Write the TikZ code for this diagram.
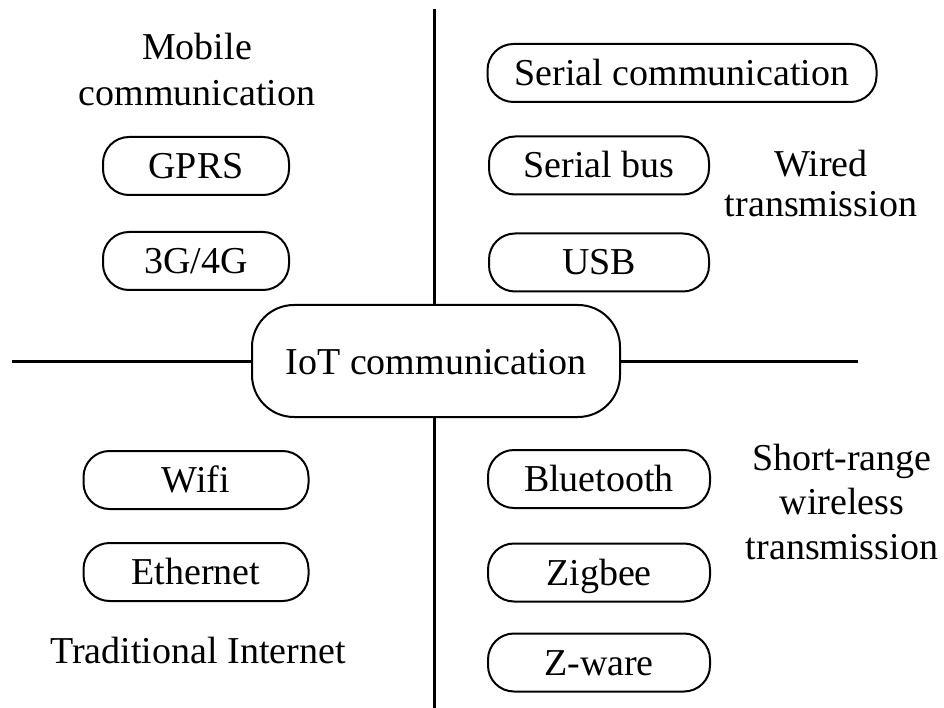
\documentclass[tikz,border=0pt]{standalone}
\usepackage{fontspec}
\setmainfont{Liberation Serif}
\begin{document}
\begin{tikzpicture}[x=1pt,y=-1pt,
  txt/.style={font=\fontsize{38}{46}\selectfont, inner sep=0pt, align=center},
  chip/.style={draw, line width=2pt, rounded corners=26pt, inner sep=0pt,
               font=\fontsize{38}{46}\selectfont, text height=25pt, text depth=0pt,
               minimum height=58pt},
  hub/.style={draw, line width=2pt, rounded corners=42pt, inner sep=0pt,
              font=\fontsize{38}{46}\selectfont, text height=27pt, text depth=0pt,
              minimum width=368pt, minimum height=112pt},
  axis/.style={line width=3pt}]
\useasboundingbox (0,0) rectangle (944,708);

% central node and the two axes crossing it
\node[hub] (iot) at (436,361) {IoT communication};
\coordinate (vtop) at (434,9.5);
\coordinate (vbot) at (434,708);
\coordinate (hleft) at (12,361);
\coordinate (hright) at (858,361);
\draw[axis] (vtop) -- (vtop |- iot.north);
\draw[axis] (vbot) -- (vbot |- iot.south);
\draw[axis] (hleft) -- (iot.west);
\draw[axis] (hright) -- (iot.east);

% mobile communication (upper left)
\node[txt] (mobile) at (197,70) {Mobile\\communication};
\node[chip, minimum width=186pt] (gprs) at (196,166) {GPRS};
\node[chip, minimum width=186pt] (g34) at (196,261) {3G/4G};

% wired transmission (upper right)
\node[chip, minimum width=389pt] (serialc) at (682,73) {Serial communication};
\node[chip, minimum width=220pt] (serialb) at (599,165.5) {Serial bus};
\node[chip, minimum width=220pt] (usb) at (599,262.5) {USB};
\node[txt, font=\fontsize{38}{40}\selectfont] (wired) at (821,184) {Wired\\transmission};

% traditional internet (lower left)
\node[chip, minimum width=225pt] (wifi) at (196,480) {Wifi};
\node[chip, minimum width=225pt] (eth) at (196,572) {Ethernet};
\node[txt] (trad) at (198,650) {Traditional Internet};

% short-range wireless transmission (lower right)
\node[chip, minimum width=222pt] (bt) at (599,479) {Bluetooth};
\node[chip, minimum width=222pt] (zig) at (599,572.5) {Zigbee};
\node[chip, minimum width=222pt] (zw) at (599,662.5) {Z-ware};
\node[txt, font=\fontsize{38}{44.5}\selectfont] (short) at (842,501.5) {Short-range\\wireless\\transmission};
\end{tikzpicture}
\end{document}
